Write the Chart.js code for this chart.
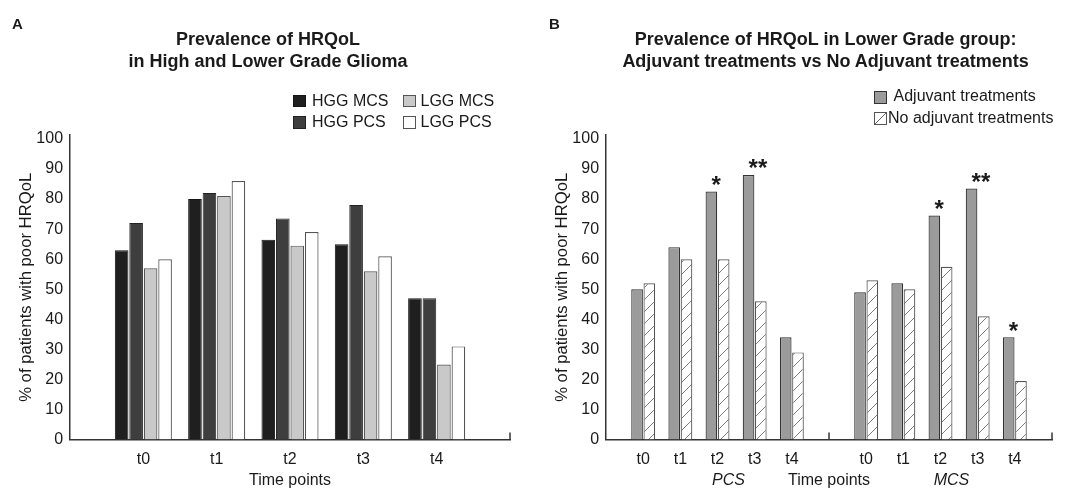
<!DOCTYPE html>
<html><head><meta charset="utf-8">
<script src="https://cdn.jsdelivr.net/npm/chart.js@4.4.0/dist/chart.umd.min.js"></script>
<style>
html,body{margin:0;padding:0;background:#fff;}
body{width:1072px;height:490px;position:relative;overflow:hidden;font-family:"Liberation Sans",Arial,sans-serif;color:#1a1a1a;}
.panel{position:absolute;top:0;width:536px;height:490px;}
.title{position:absolute;font-weight:bold;font-size:18px;line-height:21.7px;text-align:center;white-space:nowrap;}
.letter{position:absolute;font-weight:bold;font-size:15px;line-height:15px;}
.lg{position:absolute;font-size:16px;line-height:16px;white-space:nowrap;}
.sw{position:absolute;box-sizing:border-box;width:13px;height:12.5px;}
</style></head>
<body>
<div class="panel" style="left:0"><canvas id="cA"></canvas></div>
<div class="panel" style="left:536px"><canvas id="cB"></canvas></div>

<div class="letter" style="left:12px;top:16px">A</div>
<div class="letter" style="left:549px;top:16px">B</div>
<div class="title" style="left:0;width:536px;top:29px">Prevalence of HRQoL<br>in High and Lower Grade Glioma</div>
<div class="title" style="left:525.6px;width:600px;top:29px">Prevalence of HRQoL in Lower Grade group:<br>Adjuvant treatments vs No Adjuvant treatments</div>

<div id="legA"></div>
<div id="legB"></div>

<script>
// ---------- DATA ----------
const timeLabels = ['t0', 't1', 't2', 't3', 't4'];
// Panel A
const hggMCS = [63, 80, 66.5, 65, 47];
const hggPCS = [72, 82, 73.5, 78, 47];
const lggMCS = [57, 81, 64.5, 56, 25];
const lggPCS = [60, 86, 69, 61, 31];
// Panel B (Lower Grade group)
const adjPCS   = [50, 64, 82.5, 88, 34];
const noAdjPCS = [52, 60, 60, 46, 29];
const adjMCS   = [49, 52, 74.5, 83.5, 34];
const noAdjMCS = [53, 50, 57.5, 41, 19.5];
const sigPCS = ['', '', '*', '**', ''];
const sigMCS = ['', '', '*', '**', '*'];
const yTicks = [0, 10, 20, 30, 40, 50, 60, 70, 80, 90, 100];
const groupNames = ['PCS', 'MCS'];

// ---------- helpers ----------
Chart.defaults.font.family = "'Liberation Sans', Arial, sans-serif";
Chart.defaults.color = '#1a1a1a';
const pad = a => [null, ...a, null];

function hatchPattern() {
  const c = document.createElement('canvas');
  c.width = 12; c.height = 12;
  const g = c.getContext('2d');
  g.fillStyle = '#fff'; g.fillRect(0, 0, 12, 12);
  g.strokeStyle = '#7c7c7c'; g.lineWidth = 1;
  g.beginPath();
  g.moveTo(0, 12); g.lineTo(12, 0);
  g.moveTo(-2, 2); g.lineTo(2, -2);
  g.moveTo(10, 14); g.lineTo(14, 10);
  g.stroke();
  return g.createPattern(c, 'repeat');
}

function scales() {
  return {
    x: {
      offset: false,
      grid: {display: false, drawTicks: false},
      border: {display: true, color: '#333', width: 1.5},
      ticks: {font: {size: 16}, padding: 10, autoSkip: false, maxRotation: 0, color: '#1a1a1a'},
      title: {display: true, text: 'Time points', font: {size: 16}, padding: {top: -8, bottom: 0}, color: '#1a1a1a'}
    },
    y: {
      min: 0, max: 101.3,
      afterBuildTicks: s => { s.ticks = yTicks.map(v => ({value: v})); },
      grid: {display: false, drawTicks: false},
      border: {display: true, color: '#333', width: 1.5},
      ticks: {font: {size: 16}, padding: 7, color: '#1a1a1a'},
      title: {display: true, text: '% of patients with poor HRQoL', font: {size: 16.7}, padding: {top: 12.7, bottom: -7.4}, color: '#1a1a1a'}
    }
  };
}

function axisTicksPlugin(indices) {
  return {
    id: 'axisTicks',
    afterDatasetsDraw(chart) {
      const {ctx} = chart, x = chart.scales.x, y = chart.scales.y;
      ctx.save();
      ctx.strokeStyle = '#333'; ctx.lineWidth = 1.5;
      indices.forEach(i => {
        const px = x.getPixelForValue(i);
        ctx.beginPath(); ctx.moveTo(px, y.bottom); ctx.lineTo(px, y.bottom - 7); ctx.stroke();
      });
      ctx.restore();
    }
  };
}

// ---------- Panel A ----------
const labelsA = ['', ...timeLabels, ''];
new Chart(document.getElementById('cA'), {
  type: 'bar',
  data: {
    labels: labelsA,
    datasets: [
      {label: 'HGG MCS', data: pad(hggMCS), backgroundColor: '#1f1f1f', borderColor: '#141414', borderWidth: 1},
      {label: 'HGG PCS', data: pad(hggPCS), backgroundColor: '#3e3e3e', borderColor: '#222', borderWidth: 1},
      {label: 'LGG MCS', data: pad(lggMCS), backgroundColor: '#c9c9c9', borderColor: '#555', borderWidth: 1.2},
      {label: 'LGG PCS', data: pad(lggPCS), backgroundColor: '#ffffff', borderColor: '#555', borderWidth: 1.2}
    ]
  },
  options: {
    responsive: true, maintainAspectRatio: false, animation: false,
    layout: {padding: {top: 135, left: 4, right: 26, bottom: 0}},
    categoryPercentage: 0.79, barPercentage: 0.94,
    plugins: {legend: {display: false}, tooltip: {enabled: false}, title: {display: false}},
    scales: scales()
  },
  plugins: [axisTicksPlugin([labelsA.length - 1])]
});

// ---------- Panel B ----------
const labelsB = ['', ...timeLabels, '', ...timeLabels, ''];
const sigB = ['', ...sigPCS, '', ...sigMCS, ''];
const sigPlugin = {
  id: 'sig',
  afterDatasetsDraw(chart) {
    const {ctx} = chart;
    const meta = chart.getDatasetMeta(0);
    const x = chart.scales.x;
    ctx.save();
    ctx.fillStyle = '#1a1a1a';
    ctx.font = "bold 24px 'Liberation Sans', Arial, sans-serif";
    ctx.textAlign = 'left'; ctx.textBaseline = 'alphabetic';
    sigB.forEach((s, i) => {
      if (!s) return;
      const bar = meta.data[i];
      ctx.fillText(s, bar.x, bar.y + 1.5);
    });
    // group names under axis
    ctx.font = "italic 16px 'Liberation Sans', Arial, sans-serif";
    ctx.textAlign = 'center'; ctx.textBaseline = 'middle';
    const ty = x.bottom - 9.6;
    [[1, 5], [7, 11]].forEach((r, k) => {
      const cx = (x.getPixelForValue(r[0]) + x.getPixelForValue(r[1])) / 2 + 11;
      ctx.fillText(groupNames[k], cx, ty);
    });
    ctx.restore();
  }
};
new Chart(document.getElementById('cB'), {
  type: 'bar',
  data: {
    labels: labelsB,
    datasets: [
      {label: 'Adjuvant treatments', data: [null, ...adjPCS, null, ...adjMCS, null], backgroundColor: '#9b9b9b', borderColor: '#333', borderWidth: 1.2},
      {label: 'No adjuvant treatments', data: [null, ...noAdjPCS, null, ...noAdjMCS, null], backgroundColor: hatchPattern(), borderColor: '#555', borderWidth: 1.2}
    ]
  },
  options: {
    responsive: true, maintainAspectRatio: false, animation: false,
    layout: {padding: {top: 135, left: 4, right: 20, bottom: 0}},
    categoryPercentage: 0.66, barPercentage: 0.95,
    plugins: {legend: {display: false}, tooltip: {enabled: false}, title: {display: false}},
    scales: scales()
  },
  plugins: [axisTicksPlugin([6, 12]), sigPlugin]
});

// ---------- HTML legends (2x2 for A, 2 rows for B) ----------
function legendItem(parent, sx, sy, style, tx, ty, text) {
  const s = document.createElement('div');
  s.className = 'sw'; s.style.left = sx + 'px'; s.style.top = sy + 'px';
  Object.assign(s.style, style);
  parent.appendChild(s);
  const t = document.createElement('div');
  t.className = 'lg'; t.style.left = tx + 'px'; t.style.top = ty + 'px';
  t.textContent = text;
  parent.appendChild(t);
}
const legA = document.getElementById('legA');
legendItem(legA, 293, 94.5, {background: '#1f1f1f', border: '1px solid #141414'}, 312, 93, 'HGG MCS');
legendItem(legA, 403, 94.5, {background: '#c9c9c9', border: '1px solid #555'}, 420.5, 93, 'LGG MCS');
legendItem(legA, 293, 116, {background: '#3e3e3e', border: '1px solid #222'}, 312, 114.4, 'HGG PCS');
legendItem(legA, 403, 116, {background: '#fff', border: '1px solid #555'}, 420.5, 114.4, 'LGG PCS');
const legB = document.getElementById('legB');
legendItem(legB, 874, 91, {background: '#9b9b9b', border: '1px solid #333'}, 893.5, 88.2, 'Adjuvant treatments');
legendItem(legB, 874, 112, {background: 'linear-gradient(to bottom right, #fff calc(50% - 0.7px), #666 50%, #fff calc(50% + 0.7px))', border: '1px solid #555'}, 888, 110, 'No adjuvant treatments');
</script>
</body></html>
